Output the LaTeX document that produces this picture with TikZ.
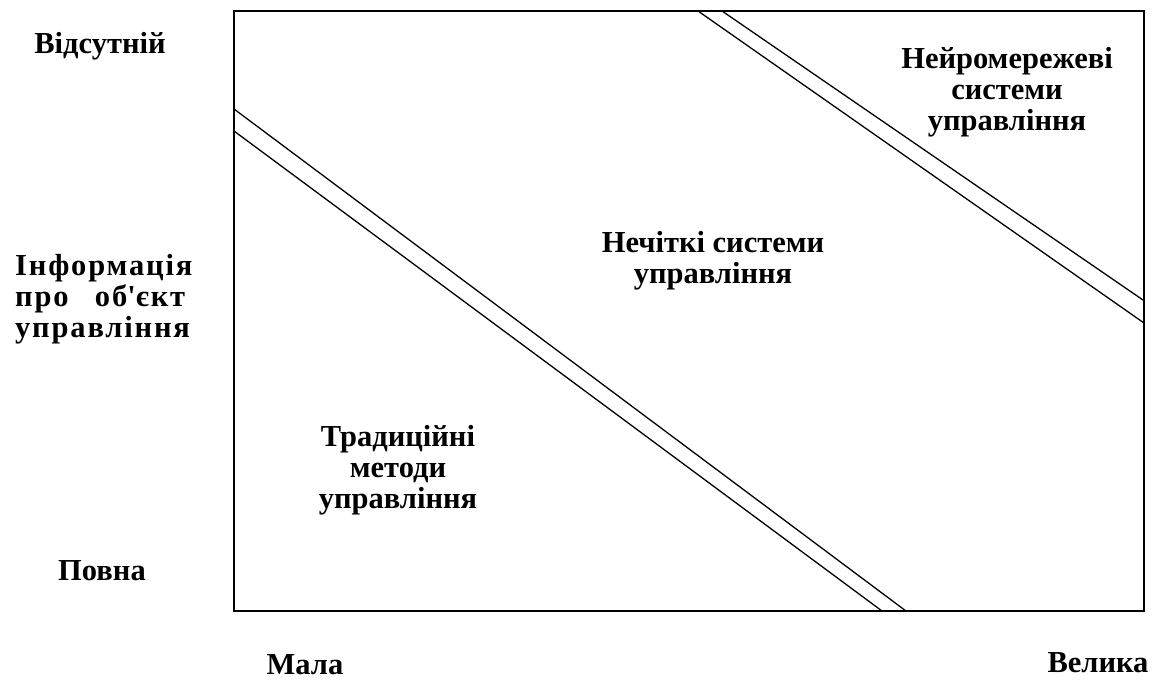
\documentclass[tikz,border=0pt]{standalone}
\usepackage{fontspec}
\setmainfont{Liberation Serif}
\newfontfamily\spacedfont[LetterSpace=6]{Liberation Serif}
\tikzset{
  lbl/.style={font=\bfseries\fontsize{30.5}{31}\selectfont, align=center, inner sep=0pt, anchor=base},
  frame/.style={line width=1.8pt},
  sep/.style={line width=1.3pt}
}
\begin{document}
\begin{tikzpicture}[x=1pt,y=-1pt]
\useasboundingbox (0,0) rectangle (1160,680);
\coordinate (tl) at (234,11);
\coordinate (br) at (1144,611);
\draw[frame] (tl) rectangle (br);
% separators
\coordinate (a1) at (234,109); \coordinate (a2) at (906,611);
\coordinate (b1) at (234,131); \coordinate (b2) at (882,611);
\coordinate (c1) at (722,11);  \coordinate (c2) at (1143,300);
\coordinate (d1) at (698,11);  \coordinate (d2) at (1144,323);
\draw[sep] (a1) -- (a2);
\draw[sep] (b1) -- (b2);
\draw[sep] (c1) -- (c2);
\draw[sep] (d1) -- (d2);
% axis labels (anchor=base is the last line's baseline)
\node[lbl] (absent) at (100,53) {Відсутній};
\node[lbl, align=left, anchor=base west, font=\spacedfont\bfseries\fontsize{30.5}{31}\selectfont] (info) at (15,337)
  {Інформація\\\makebox[170pt][s]{про об\textquotesingle єкт}\\управління};
\node[lbl] (full) at (102,580) {Повна};
\node[lbl] (small) at (305,674) {Мала};
\node[lbl] (large) at (1098,672) {Велика};
% region labels
\node[lbl] (neuro) at (1007,130) {Нейромережеві\\системи\\управління};
\node[lbl] (fuzzy) at (713,283) {Нечіткі системи\\управління};
\node[lbl] (trad) at (398,508) {Традиційні\\методи\\управління};
\end{tikzpicture}
\end{document}
